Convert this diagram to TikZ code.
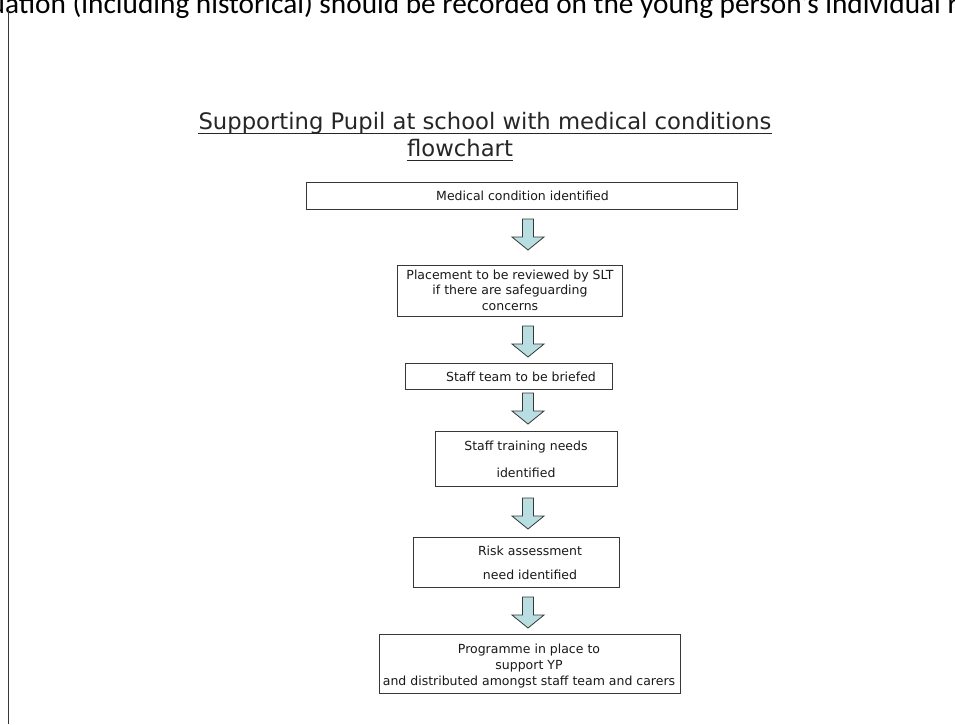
\documentclass[tikz,border=0pt]{standalone}
\usepackage{fontspec}
\setmainfont{DejaVu Sans}
\newfontfamily\calibfont{Carlito}
\definecolor{arrowfill}{RGB}{185,222,225}
\definecolor{edgegray}{RGB}{55,55,55}
\begin{document}
\begin{tikzpicture}[x=1pt,y=-1pt,
  box/.style={draw=edgegray, line width=1pt, inner sep=0pt},
  boxtext/.style={inner sep=0pt, align=center, font=\fontsize{12.5}{15.5}\selectfont, text=black!90},
  titletext/.style={inner sep=0pt, anchor=base, font=\fontsize{22.7}{27}\selectfont, text=black!85},
  downarrow/.style={fill=arrowfill, draw=edgegray, line width=0.8pt, line join=miter},
  blockarrow/.pic={\draw[downarrow] (-5.5,0) -- (5.5,0) -- (5.5,18) -- (16,18) -- (0,31) -- (-16,18) -- (-5.5,18) -- cycle;}
]
\useasboundingbox (0,0) rectangle (955,724);
\clip (0,0) rectangle (955,724);
\fill[white] (0,0) rectangle (955,724);

% top cut-off text and margin line
\node[anchor=base west, inner sep=0pt, font=\calibfont\fontsize{29.3}{29.3}\selectfont] (toptext) at (-10.5,13.5) {uation (including historical) should be recorded on the young person’s individual record};
\coordinate (mtop) at (8,11);
\coordinate (mbot) at (8,724);
\draw[edgegray, line width=1pt] (mtop) -- (mbot);

% title
\node[titletext] (title1) at (485,129.3) {Supporting Pupil at school with medical conditions};
\node[titletext] (title2) at (460,156.5) {flowchart};
\draw[black!85, line width=0.9pt] ([yshift=-4pt]title1.base west) -- ([yshift=-4pt]title1.base east);
\draw[black!85, line width=0.9pt] ([yshift=-4pt]title2.base west) -- ([yshift=-4pt]title2.base east);

% boxes
\node[box, minimum width=431pt, minimum height=27pt] (b1) at (521.5,195.5) {};
\node[box, minimum width=225pt, minimum height=51pt] (b2) at (509.5,290.5) {};
\node[box, minimum width=207pt, minimum height=26pt] (b3) at (508.5,376) {};
\node[box, minimum width=182pt, minimum height=55pt] (b4) at (526,458.5) {};
\node[box, minimum width=206pt, minimum height=50pt] (b5) at (516,562) {};
\node[box, minimum width=301pt, minimum height=59pt] (b6) at (529.5,663.5) {};

% texts
\node[boxtext] (t1) at (522.5,196) {Medical condition identified};
\node[boxtext] (t2) at (510,290) {Placement to be reviewed by SLT\\if there are safeguarding\\concerns};
\node[boxtext] (t3) at (521,377) {Staff team to be briefed};
\node[boxtext, font=\fontsize{12.5}{27}\selectfont] (t4) at (526,459) {Staff training needs\\identified};
\node[boxtext, font=\fontsize{12.5}{24}\selectfont] (t5) at (530,562.5) {Risk assessment\\need identified};
\node[boxtext, font=\fontsize{12.5}{16}\selectfont] (t6) at (529,666) {Programme in place to\\support YP\\and distributed amongst staff team and carers};

% block arrows
\pic at (528,219) {blockarrow};
\pic at (528,326) {blockarrow};
\pic at (528,393) {blockarrow};
\pic at (528,498) {blockarrow};
\pic at (528,597) {blockarrow};
\end{tikzpicture}
\end{document}
